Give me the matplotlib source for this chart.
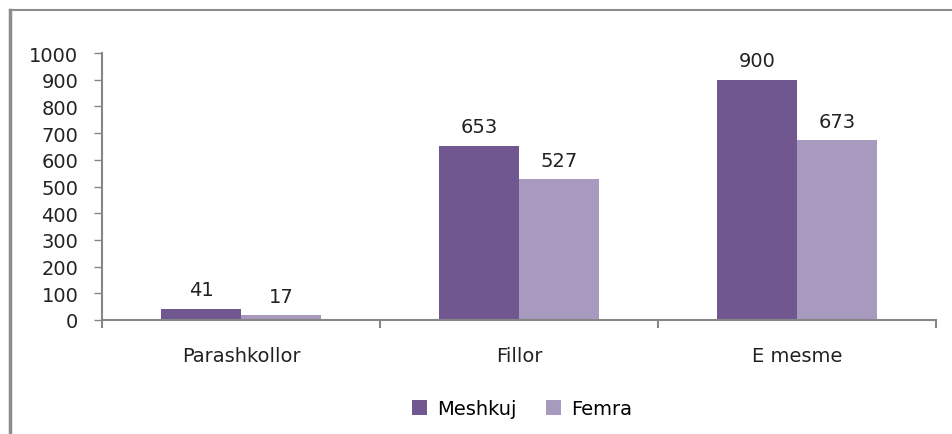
import matplotlib.pyplot as plt
from matplotlib.lines import Line2D
import numpy as np

# Categories and series values
categories = ['Parashkollor', 'Fillor', 'E mesme']
meshkuj = [41, 653, 900]
femra = [17, 527, 673]
series_names = ['Meshkuj', 'Femra']

dark = '#70578f'
light = '#a899bf'
axis_gray = '#868686'

fig = plt.figure(figsize=(9.53, 4.35), dpi=100)
ax = fig.add_axes([102 / 953, 114 / 435, 834 / 953, 267 / 435])

x = np.arange(len(categories))
w = 0.288
b1 = ax.bar(x - w / 2, meshkuj, w, color=dark, label=series_names[0])
b2 = ax.bar(x + w / 2, femra, w, color=light, label=series_names[1])

for bars in (b1, b2):
    for rect in bars:
        ax.annotate(str(int(rect.get_height())),
                    (rect.get_x() + rect.get_width() / 2, rect.get_height()),
                    xytext=(0, 7), textcoords='offset points',
                    ha='center', va='bottom', fontsize=14, color='#222222')

ax.set_xlim(-0.5, len(categories) - 0.5)
ax.set_ylim(0, 1000)
ax.set_yticks(range(0, 1001, 100))

# category labels centred, tick marks at category boundaries
ax.set_xticks(x)
ax.set_xticklabels(categories, fontsize=14, color='#222222')
ax.set_xticks(np.arange(-0.5, len(categories)), minor=True)
ax.tick_params(axis='x', which='major', length=0, pad=19)
ax.tick_params(axis='x', which='minor', length=6, width=1.5, color=axis_gray)
ax.tick_params(axis='y', length=6, width=1, color=axis_gray, pad=11,
               labelsize=14, labelcolor='#222222')

for side in ('top', 'right'):
    ax.spines[side].set_visible(False)
for side in ('left', 'bottom'):
    ax.spines[side].set_color(axis_gray)
    ax.spines[side].set_linewidth(1.5)

fig.legend(loc='center', bbox_to_anchor=(522 / 953, 1 - 410 / 435),
           ncol=2, frameon=False, fontsize=14, handlelength=0.8,
           handleheight=0.8, columnspacing=1.5, handletextpad=0.5)

# outer border of the chart area
fig.add_artist(Line2D([10 / 953, 10 / 953], [0, 1 - 11 / 435],
                      transform=fig.transFigure, color='#8c8c8c', linewidth=2.5))
fig.add_artist(Line2D([10 / 953, 952 / 953], [1 - 11 / 435, 1 - 11 / 435],
                      transform=fig.transFigure, color='#8c8c8c', linewidth=1.5))

fig.savefig('out.png', dpi=100)
